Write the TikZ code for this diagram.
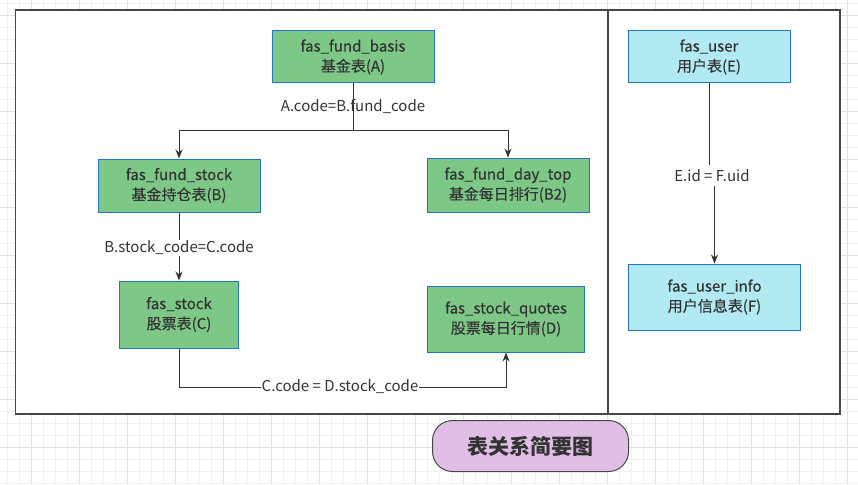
\documentclass[tikz,border=0pt]{standalone}
\usepackage{fontspec}
\setmainfont{Noto Sans CJK SC}
\newfontfamily\medfont[FakeBold=0.35]{Noto Sans CJK SC}
\usetikzlibrary{arrows.meta}
\definecolor{gridminor}{RGB}{240,240,240}
\definecolor{gridmajor}{RGB}{224,224,224}
\definecolor{greenfill}{RGB}{125,200,135}
\definecolor{cyanfill}{RGB}{177,234,242}
\definecolor{purplefill}{RGB}{225,190,230}
\definecolor{boxborder}{RGB}{36,118,196}
\definecolor{ink}{RGB}{51,51,51}
\tikzset{
  tbl/.style={draw=boxborder, line width=1pt, fill=greenfill, text=ink, align=center,
    font=\medfont\fontsize{15}{20}\selectfont, inner sep=0pt, minimum width=#1},
  tblc/.style={tbl=#1, fill=cyanfill},
  lbl/.style={text=ink, font=\fontsize{15}{17}\selectfont, inner sep=1pt},
  conn/.style={draw=ink, line width=0.9pt},
  arr/.style={conn, -{Stealth[length=9pt,width=7pt]}},
  frame/.style={draw=ink!90, line width=1.5pt, fill=white}
}
\begin{document}
\begin{tikzpicture}[x=1pt,y=-1pt]
\useasboundingbox (0,0) rectangle (858,484);
% grid
\foreach \x in {7.5,19.5,...,858} \draw[gridminor, line width=0.8pt] (\x,0) -- (\x,484);
\foreach \y in {3.5,15.5,...,484} \draw[gridminor, line width=0.8pt] (0,\y) -- (858,\y);
\foreach \x in {31.5,79.5,...,858} \draw[gridmajor, line width=0.9pt] (\x,0) -- (\x,484);
\foreach \y in {15.5,63.5,...,484} \draw[gridmajor, line width=0.9pt] (0,\y) -- (858,\y);
% frames
\draw[frame] (15.5,10) rectangle (608,414);
\draw[frame] (608,10) rectangle (840,414);
% nodes
\node[tbl=162pt, minimum height=52pt] (A) at (353,57) {fas\_fund\_basis\\基金表(A)};
\node[tbl=162pt, minimum height=53pt] (B) at (179,185.5) {fas\_fund\_stock\\基金持仓表(B)};
\node[tbl=162pt, minimum height=54pt] (B2) at (508,185) {fas\_fund\_day\_top\\基金每日排行(B2)};
\node[tbl=119pt, minimum height=67pt] (C) at (179,314.5) {fas\_stock\\股票表(C)};
\node[tbl=157pt, minimum height=66pt] (D) at (506,319) {fas\_stock\_quotes\\股票每日行情(D)};
\node[tblc=162pt, minimum height=52pt] (E) at (709,57) {fas\_user\\用户表(E)};
\node[tblc=172pt, minimum height=66pt] (F) at (714.5,297) {fas\_user\_info\\用户信息表(F)};
\node[draw=ink!90, line width=1pt, fill=purplefill, rounded corners=20pt, minimum width=196pt,
  minimum height=51pt, text=ink, font=\fontsize{21}{24}\selectfont\bfseries] (T) at (530.5,446) {表关系简要图};
% A -> B, B2
\coordinate (split) at (353,130);
\draw[conn] (A.south) -- (split);
\draw[arr] (split) -| (B.north);
\draw[arr] (split) -| (B2.north);
\node[lbl] (ab) at (353,106) {A.code=B.fund\_code};
% B -> C
\node[lbl, fill=white] (bc) at (179,248) {B.stock\_code=C.code};
\draw[conn] (B.south) -- (bc.north);
\draw[arr] (bc.south) -- (C.north);
% C -> D
\coordinate (cd1) at (179,387);
\coordinate (cd2) at (506,387);
\draw[arr] (C.south) -- (cd1) -- (cd2) -- (D.south);
\node[lbl, fill=white] (cd) at (340,387) {C.code = D.stock\_code};
% E -> F
\node[lbl, fill=white, inner sep=4pt] (ef) at (712,175.7) {E.id = F.uid};
\draw[conn] (E.south) -- (E.south |- ef.north);
\draw[arr] (F.north |- ef.south) -- (F.north);
\end{tikzpicture}
\end{document}
